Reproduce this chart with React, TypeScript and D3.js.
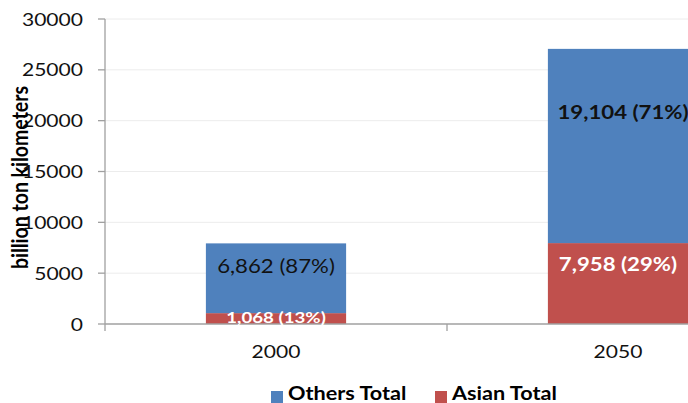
import React from "react";
import * as d3 from "d3";

const categories = ["2000", "2050"];
const asianTotal = [1068, 7958];
const othersTotal = [6862, 19104];
const yTicks = [0, 5000, 10000, 15000, 20000, 25000, 30000];
const seriesNames = ["Others Total", "Asian Total"];
const yTitle = "billion ton kilometers";

const W = 688;
const H = 403;
const BLUE = "#4f81bd";
const RED = "#c0504d";
const FONT = "Lato, 'Open Sans', sans-serif";
const SX = 1.17;

type Row = { cat: string; asian: number; others: number };

function STxt(props: {
  x: number;
  y: number;
  size: number;
  anchor?: "start" | "middle" | "end";
  weight?: string | number;
  fill?: string;
  children: React.ReactNode;
}) {
  const { x, y, size, anchor = "start", weight = "normal", fill = "#000", children } = props;
  return (
    <text
      transform={`translate(${x},${y}) scale(${SX},1)`}
      fontFamily={FONT}
      fontSize={size}
      fontWeight={weight}
      textAnchor={anchor}
      fill={fill}
    >
      {children}
    </text>
  );
}

export default function App() {
  const plotLeft = 105;
  const plotRight = 789;
  const plotTop = 19;
  const plotBottom = 324;

  const y = d3.scaleLinear().domain([0, 30000]).range([plotBottom, plotTop]);
  const x = d3.scaleBand<string>().domain(categories).range([plotLeft, plotRight]);
  const barW = x.bandwidth() * 0.41;

  const rows: Row[] = categories.map((c, i) => ({ cat: c, asian: asianTotal[i], others: othersTotal[i] }));
  const stacked = d3.stack<Row>().keys(["asian", "others"])(rows);
  const colors: Record<string, string> = { asian: RED, others: BLUE };
  const fmt = d3.format(",");

  const totals = rows.map((r) => r.asian + r.others);

  return (
    <svg
      width={W}
      height={H}
      style={{ position: "absolute", left: 0, top: 0, background: "#fff" }}
    >
      <rect x={0} y={0} width={W} height={H} fill="#fff" />
      {/* gridlines */}
      {yTicks.slice(1).map((t) => (
        <line key={"g" + t} x1={plotLeft} x2={plotRight} y1={y(t)} y2={y(t)} stroke="#ececec" strokeWidth={1} />
      ))}
      {/* bars */}
      {stacked.map((s) =>
        s.map((d, i) => (
          <rect
            key={s.key + i}
            x={(x(rows[i].cat) as number) + (x.bandwidth() - barW) / 2}
            width={barW}
            y={y(d[1])}
            height={y(d[0]) - y(d[1])}
            fill={colors[s.key]}
          />
        ))
      )}
      {/* axes */}
      <line x1={plotLeft} x2={plotLeft} y1={plotTop} y2={plotBottom + 7} stroke="#a0a0a0" strokeWidth={1.3} />
      {yTicks.map((t) => (
        <line key={"t" + t} x1={plotLeft - 7} x2={plotLeft} y1={y(t)} y2={y(t)} stroke="#a0a0a0" strokeWidth={1.3} />
      ))}
      <line x1={plotLeft} x2={plotRight} y1={plotBottom} y2={plotBottom} stroke="#a0a0a0" strokeWidth={1.3} />
      {categories.slice(1).map((c) => (
        <line key={"xt" + c} x1={x(c) as number} x2={x(c) as number} y1={plotBottom} y2={plotBottom + 7} stroke="#a0a0a0" strokeWidth={1.3} />
      ))}
      {/* y tick labels */}
      {yTicks.map((t) => (
        <STxt key={"l" + t} x={83} y={y(t) + 6.5} size={18} anchor="end" fill="#111">
          {String(t)}
        </STxt>
      ))}
      {/* x labels */}
      {categories.map((c) => (
        <STxt key={"xl" + c} x={(x(c) as number) + x.bandwidth() / 2} y={358} size={18} anchor="middle" fill="#111">
          {c}
        </STxt>
      ))}
      {/* data labels */}
      {stacked.map((s) =>
        s.map((d, i) => {
          const top = y(d[1]);
          const bot = y(d[0]);
          const h = bot - top;
          const isAsian = s.key === "asian";
          const cy = top + h * (isAsian ? 0.27 : 0.33);
          const v = d[1] - d[0];
          const pct = Math.round((v / totals[i]) * 100);
          const weight = isAsian || i === 1 ? "bold" : "normal";
          return (
            <STxt
              key={"dl" + s.key + i}
              x={(x(rows[i].cat) as number) + x.bandwidth() / 2 + (i === 1 && !isAsian ? 5 : 0)}
              y={cy + 6.5}
              size={isAsian && i === 0 ? 16 : 19}
              anchor="middle"
              weight={weight}
              fill={isAsian ? "#fff" : "#111"}
            >
              {`${fmt(v)} (${pct}%)`}
            </STxt>
          );
        })
      )}
      {/* y title */}
      <text
        transform={`translate(28,${(plotTop + plotBottom) / 2 + 6}) scale(${SX},1) rotate(-90)`}
        fontFamily={FONT}
        fontSize={19.5}
        fontWeight="bold"
        textAnchor="middle"
        fill="#000"
      >
        {yTitle}
      </text>
      {/* legend */}
      {seriesNames.map((n, i) => {
        const lx = i === 0 ? 271 : 435;
        return (
          <g key={"lg" + n}>
            <rect x={lx} y={391} width={12} height={12} fill={i === 0 ? BLUE : RED} />
            <STxt x={lx + 17} y={400} size={18.5} weight="bold" fill="#000">
              {n}
            </STxt>
          </g>
        );
      })}
    </svg>
  );
}
